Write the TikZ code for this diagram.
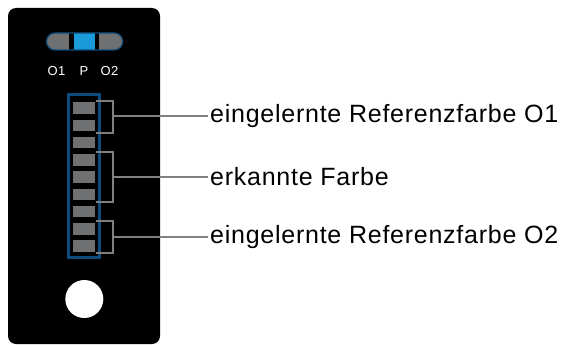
\documentclass[tikz,border=0pt]{standalone}
\usepackage{fontspec}
\setmainfont{Liberation Sans}
\usepackage{xcolor}
\usetikzlibrary{positioning,calc}
\definecolor{ledgray}{HTML}{6E7072}
\definecolor{frameblue}{HTML}{0E4C7E}
\definecolor{pblue}{HTML}{1A9AD8}
\definecolor{brkgray}{HTML}{7E8082}

\begin{document}
\begin{tikzpicture}[x=1pt, y=-1pt, >=stealth,
	led/.style={rectangle, fill=ledgray, minimum width=21.7pt, minimum height=11.5pt, inner sep=0pt},
	brk/.style={draw=brkgray, line width=2pt},
	lbl/.style={anchor=west, inner sep=0pt, font=\fontsize{25}{27}\selectfont\addfontfeature{LetterSpace=3}},
	swlbl/.style={text=white, inner sep=0pt, font=\fontsize{13}{15}\selectfont\addfontfeature{LetterSpace=4}}]
	\useasboundingbox (0,0) rectangle (567,345);
	\fill[black, rounded corners=8pt] (8,8) rectangle (160,344);
	
	\fill[ledgray, rounded corners=8.5pt] (46.5,33) rectangle (122.7,50);
	\fill[black] (69.3,33) rectangle (99.3,50);
	\fill[pblue] (73.5,33) rectangle (95,50);
	\draw[frameblue, line width=1.2pt, rounded corners=8.5pt] (46.5,33) rectangle (122.7,50);
	\node[swlbl] (o1) at (56.5,71) {O1};
	\node[swlbl] (p) at (84,71) {P};
	\node[swlbl] (o2) at (109.5,71) {O2};
	
	\draw[frameblue, line width=2.7pt] (68.7,94.7) rectangle (99.7,257.7);
	\foreach \i in {0,...,8}
		\node[led] (led\i) at (84.2,{108+17.25*\i}) {};
	
	\node[lbl] (ref1) at (210,116) {eingelernte Referenzfarbe O1};
	\node[lbl] (akt) at (210,177) {erkannte Farbe};
	\node[lbl] (ref2) at (210,237) {eingelernte Referenzfarbe O2};
	
	\draw[brk] ([xshift=1pt,yshift=1.5pt]led0.north east) -| (112.8,116) |- ([xshift=1pt,yshift=-1.5pt]led1.south east);
	\draw[brk] ([xshift=1pt,yshift=1.5pt]led3.north east) -| (112.8,177) |- ([xshift=1pt,yshift=-1.5pt]led5.south east);
	\draw[brk] ([xshift=1pt,yshift=1.5pt]led7.north east) -| (112.8,237) |- ([xshift=1pt,yshift=-1.5pt]led8.south east);
	\draw[brk] (112.8,116) -- ([xshift=-2pt]ref1.west);
	\draw[brk] (112.8,177) -- ([xshift=-2pt]akt.west);
	\draw[brk] (112.8,237) -- ([xshift=-2pt]ref2.west);
	
	\fill[white] (84.3,299) circle (19pt);
\end{tikzpicture}
\end{document}
